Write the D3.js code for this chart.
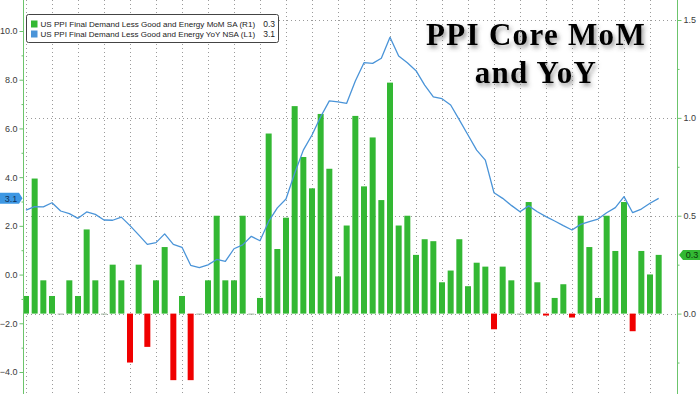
<!DOCTYPE html>
<html><head><meta charset="utf-8">
<script src="https://cdn.jsdelivr.net/npm/d3@7"></script>
<style>
html,body{margin:0;padding:0;background:#fff;}
svg{display:block;}
</style>
</head><body>
<svg id="chart" width="700" height="394"></svg>
<script>
// ---- data ----
const months = [
 "2018-09","2018-10","2018-11","2018-12",
 "2019-01","2019-02","2019-03","2019-04","2019-05","2019-06","2019-07","2019-08","2019-09","2019-10","2019-11","2019-12",
 "2020-01","2020-02","2020-03","2020-04","2020-05","2020-06","2020-07","2020-08","2020-09","2020-10","2020-11","2020-12",
 "2021-01","2021-02","2021-03","2021-04","2021-05","2021-06","2021-07","2021-08","2021-09","2021-10","2021-11","2021-12",
 "2022-01","2022-02","2022-03","2022-04","2022-05","2022-06","2022-07","2022-08","2022-09","2022-10","2022-11","2022-12",
 "2023-01","2023-02","2023-03","2023-04","2023-05","2023-06","2023-07","2023-08","2023-09","2023-10","2023-11","2023-12",
 "2024-01","2024-02","2024-03","2024-04","2024-05","2024-06","2024-07","2024-08","2024-09","2024-10"
];
// MoM SA (right axis)
const momValues = [
 0.09,0.69,0.17,0.09,
 0,0.17,0.09,0.43,0.17,0,0.25,0.17,-0.25,0.25,-0.17,0.17,
 0.34,-0.34,0.09,-0.34,0,0.17,0.50,0.17,0.17,0.50,0,0.08,
 0.92,0.33,0.49,1.06,0.80,0.64,1.02,0.74,0.19,0.45,1.01,0.65,
 0.90,0.58,1.18,0.45,0.50,0.30,0.38,0.37,0.16,0.22,0.38,0.14,
 0.26,0.24,-0.08,0.24,0.17,0,0.57,0.16,-0.01,0.08,0.15,-0.02,
 0.50,0.34,0.08,0.50,0.32,0.57,-0.09,0.32,0.20,0.30
];
// YoY NSA (left axis)
const yoyValues = [
 2.65,2.79,2.78,2.95,
 2.61,2.50,2.31,2.57,2.47,2.24,2.23,2.36,2.01,1.63,1.24,1.31,
 1.67,1.24,1.12,0.38,0.29,0.40,0.62,0.54,1.06,1.22,1.57,1.39,
 2.18,2.74,3.10,4.16,5.11,5.73,6.48,7.13,7.09,7.03,7.95,8.70,
 8.67,8.88,9.74,8.97,8.70,8.37,7.78,7.30,7.22,6.96,6.35,5.73,
 5.11,4.70,3.36,3.13,2.84,2.58,2.82,2.58,2.38,2.20,2.01,1.83,
 2.06,2.17,2.28,2.54,2.75,3.20,2.54,2.69,2.93,3.13
];
const leftTicks = [-4,-2,0,2,4,6,8,10];
const leftMinorTicks = [-5,-3,-1,1,3,5,7,9];
const rightTicks = [0,0.5,1.0,1.5];
const rightMinorTicks = [-0.25,0.25,0.75,1.25];
const legendLabels = [
 "US PPI Final Demand Less Good and Energy MoM SA (R1)",
 "US PPI Final Demand Less Good and Energy YoY NSA (L1)"
];
const titleLines = ["PPI Core MoM","and YoY"];

// ---- setup ----
const W = 700, H = 394;
const svg = d3.select("#chart");
const green = "#33b833", red = "#f00000", blue = "#4a94d8";
const axisGreen = "#6cc46c";
const leftX = 23, rightX = 677;

const x = d3.scalePoint().domain(months).range([26, 658.67]);
const yL = d3.scaleLinear().domain([-4,10]).range([372, 31]);
const yR = d3.scaleLinear().domain([0,1.5]).range([313.6, 20]);
const barW = 6;

const defs = svg.append("defs");
const f = defs.append("filter").attr("id","shadow").attr("x","-20%").attr("y","-30%").attr("width","140%").attr("height","160%");
f.append("feDropShadow").attr("dx",2).attr("dy",3).attr("stdDeviation",2.2).attr("flood-color","#444").attr("flood-opacity",0.55);

svg.append("rect").attr("width",W).attr("height",H).attr("fill","#fff");

// gridlines
const grid = svg.append("g").attr("stroke","#9a9a9a").attr("stroke-width",1).attr("stroke-dasharray","1,3");
grid.selectAll("line.v").data(months.filter((d,i)=>i%3===0)).join("line")
  .attr("x1",d=>Math.round(x(d))+0.5).attr("x2",d=>Math.round(x(d))+0.5)
  .attr("y1",0).attr("y2",H);
grid.selectAll("line.h").data(rightTicks).join("line")
  .attr("x1",leftX).attr("x2",rightX)
  .attr("y1",d=>Math.round(yR(d))+0.5).attr("y2",d=>Math.round(yR(d))+0.5);

// bars
const bars = months.map((m,i)=>({m, v: momValues[i]}));
svg.append("g").selectAll("rect").data(bars).join("rect")
  .attr("x",d=>x(d.m)-barW/2)
  .attr("width",barW)
  .attr("y",d=> d.v>0 ? yR(d.v) : yR(0))
  .attr("height",d=> Math.max(1, Math.abs(yR(d.v)-yR(0))))
  .attr("fill",d=> d.v>0 ? green : (d.v<0 ? red : "#9ab09a"));

// line
const line = d3.line().x((d,i)=>x(months[i])).y(d=>yL(d));
svg.append("path").datum(yoyValues).attr("d",line)
  .attr("fill","none").attr("stroke",blue).attr("stroke-width",1.3).attr("stroke-linejoin","round");

// axes
function styleAxis(g){
  g.select(".domain").remove();
  g.selectAll(".tick line").attr("stroke",axisGreen);
  g.selectAll(".tick text").attr("fill","#3a3a3a").style("font-family","Liberation Sans, Arial, sans-serif").style("font-size","9px");
}
svg.append("line").attr("x1",leftX+0.5).attr("x2",leftX+0.5).attr("y1",0).attr("y2",H).attr("stroke",axisGreen).attr("stroke-width",1);
svg.append("line").attr("x1",rightX+0.5).attr("x2",rightX+0.5).attr("y1",0).attr("y2",H).attr("stroke",axisGreen).attr("stroke-width",1);

svg.append("g").attr("transform",`translate(${leftX+0.5},0)`)
  .call(d3.axisLeft(yL).tickValues(leftTicks).tickFormat(d3.format(".1f")).tickSize(4).tickPadding(2))
  .call(styleAxis);
svg.append("g").attr("transform",`translate(${leftX+0.5},0)`)
  .call(d3.axisLeft(yL).tickValues(leftMinorTicks).tickFormat("").tickSize(2))
  .call(styleAxis);
svg.append("g").attr("transform",`translate(${rightX+0.5},0)`)
  .call(d3.axisRight(yR).tickValues(rightTicks).tickFormat(d3.format(".1f")).tickSize(4).tickPadding(2))
  .call(styleAxis);
svg.append("g").attr("transform",`translate(${rightX+0.5},0)`)
  .call(d3.axisRight(yR).tickValues(rightMinorTicks).tickFormat("").tickSize(2))
  .call(styleAxis);

// value tags
const fmt = d3.format(".1f");
const lastYoY = yoyValues[yoyValues.length-1], lastMoM = momValues[momValues.length-1];
const ty = yL(lastYoY);
svg.append("path")
  .attr("d",`M0,${ty-5.5} L19,${ty-5.5} L22.5,${ty} L19,${ty+5.5} L0,${ty+5.5} Z`)
  .attr("fill","#3d97e3");
svg.append("text").attr("x",11).attr("y",ty+3.3).attr("text-anchor","middle")
  .style("font-family","Liberation Sans, Arial, sans-serif").style("font-size","9px").attr("fill","#10325a")
  .text(fmt(lastYoY));
const ry = yR(lastMoM);
svg.append("path")
  .attr("d",`M679,${ry} L683,${ry-5} L700,${ry-5} L700,${ry+5} L683,${ry+5} Z`)
  .attr("fill",green);
svg.append("text").attr("x",692).attr("y",ry+3.3).attr("text-anchor","middle")
  .style("font-family","Liberation Sans, Arial, sans-serif").style("font-size","9px").attr("fill","#0a3a0a")
  .text(fmt(lastMoM));

// legend
const lg = svg.append("g");
lg.append("rect").attr("x",26.5).attr("y",14.5).attr("width",252).attr("height",28).attr("rx",2)
  .attr("fill","#fff").attr("stroke","#444").attr("stroke-width",1);
const legendItems = [
  {label: legendLabels[0], color: green, value: fmt(lastMoM)},
  {label: legendLabels[1], color: blue, value: fmt(lastYoY)}
];
const labelMaxW = 215;
legendItems.forEach((it,i)=>{
  const cy = 24 + i*10;
  lg.append("rect").attr("x",31).attr("y",cy-3.5).attr("width",6.5).attr("height",7).attr("fill",it.color);
  const t = lg.append("text").attr("x",40.5).attr("y",cy+3).style("font-family","Liberation Sans, Arial, sans-serif")
    .style("font-size","8.5px").attr("fill","#222").text(it.label);
  const len = t.node().getComputedTextLength();
  if (len > labelMaxW) t.style("font-size", (8.5*labelMaxW/len).toFixed(2)+"px");
  lg.append("text").attr("x",275).attr("y",cy+3).attr("text-anchor","end").style("font-family","Liberation Sans, Arial, sans-serif")
    .style("font-size","8.5px").attr("fill","#222").text(it.value);
});

// title
const tg = svg.append("g").attr("filter","url(#shadow)");
titleLines.forEach((t,i)=>{
  tg.append("text").attr("x",536).attr("y",45 + i*37.5).attr("text-anchor","middle")
    .style("font-family","Liberation Serif, Times New Roman, serif").style("font-weight","bold")
    .style("font-size","31px").style("letter-spacing","1.3px").attr("fill","#000").text(t);
});
</script>
</body></html>
